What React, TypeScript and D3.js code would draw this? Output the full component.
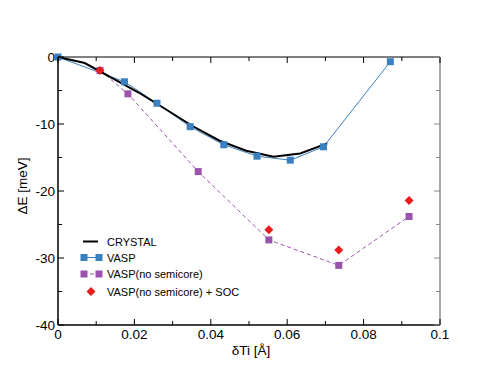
import React from 'react';
import { scaleLinear, line, range } from 'd3';

const W = 495;
const H = 383;
const margin = { top: 57, right: 55, bottom: 58, left: 58 };
const width = 440 - margin.left;
const height = 325 - margin.top;

// CRYSTAL (line only)
const crystalX = [0, 0.007, 0.0141, 0.0211, 0.0282, 0.0352, 0.0423, 0.0493, 0.0564, 0.0634, 0.0705];
const crystalY = [0, -0.9, -3.1, -5.3, -7.8, -10.3, -12.5, -14.0, -14.9, -14.4, -12.9];

// VASP
const vaspX = [0, 0.0174, 0.0259, 0.0346, 0.0434, 0.0521, 0.0608, 0.0695, 0.087];
const vaspY = [0, -3.7, -6.9, -10.4, -13.1, -14.8, -15.4, -13.4, -0.7];

// VASP (no semicore)
const nsX = [0.011, 0.0183, 0.0367, 0.0552, 0.0735, 0.0919];
const nsY = [-2.0, -5.5, -17.1, -27.3, -31.1, -23.8];

// VASP (no semicore) + SOC
const socX = [0.011, 0.0552, 0.0735, 0.0919];
const socY = [-2.0, -25.8, -28.8, -21.4];

const xTicks = [0, 0.02, 0.04, 0.06, 0.08, 0.1];
const xTickLabels = ['0', '0.02', '0.04', '0.06', '0.08', '0.1'];
const yTicks = [0, -10, -20, -30, -40];
const legendLabels = ['CRYSTAL', 'VASP', 'VASP(no semicore)', 'VASP(no semicore) + SOC'];

const BLUE = '#3a7fbf';
const PURPLE = '#9b52ad';
const RED = '#e81c1c';
const FONT = 'Liberation Sans, Arial, sans-serif';

const zip = (xs: number[], ys: number[]) => xs.map((x, i) => [x, ys[i]] as [number, number]);

export default function App() {
  const x = scaleLinear().domain([0, 0.1]).range([0, width]);
  const y = scaleLinear().domain([-40, 0]).range([height, 0]);
  const path = line<[number, number]>().x(d => x(d[0])).y(d => y(d[1]));

  const crystal = zip(crystalX, crystalY);
  const vasp = zip(vaspX, vaspY);
  const ns = zip(nsX, nsY);
  const soc = zip(socX, socY);

  const xMinor = range(0, 11).map(i => i * 0.01);
  const yMinor = range(0, 9).map(i => -i * 5);

  const sq = 7;
  const square = (d: [number, number], color: string, i: number) => (
    <rect key={i} x={x(d[0]) - sq / 2} y={y(d[1]) - sq / 2} width={sq} height={sq} fill={color} />
  );
  const diamond = (cx: number, cy: number, r: number, key: number) => (
    <path key={key} d={`M${cx},${cy - r}L${cx + r},${cy}L${cx},${cy + r}L${cx - r},${cy}Z`} fill={RED} />
  );

  const legX = 83 - margin.left;
  const legY = [241.5, 257.5, 274, 291.5].map(v => v - margin.top);

  return (
    <svg width={W} height={H} style={{ position: 'absolute', left: 0, top: 0, background: '#fff' }}
      fontFamily={FONT}>
      <g transform={`translate(${margin.left},${margin.top})`}>
        {/* data */}
        <path d={path(ns) || ''} fill="none" stroke={PURPLE} strokeWidth={1} strokeDasharray="4,3" />
        {ns.map((d, i) => square(d, PURPLE, i))}
        <path d={path(vasp) || ''} fill="none" stroke={BLUE} strokeWidth={1} />
        <path d={path(crystal) || ''} fill="none" stroke="#000" strokeWidth={2} />
        {vasp.map((d, i) => square(d, BLUE, i))}
        {soc.map((d, i) => diamond(x(d[0]), y(d[1]), 4.5, i))}

        {/* frame */}
        <line x1={0} x2={width} y1={0} y2={0} stroke="#000" />
        <line x1={width} x2={width} y1={0} y2={height} stroke="#888" strokeWidth={1.5} />
        <line x1={0} x2={0} y1={0} y2={height} stroke="#000" strokeWidth={1.5} />
        <line x1={0} x2={width} y1={height} y2={height} stroke="#000" strokeWidth={1.5} />

        {/* ticks */}
        {xMinor.map((v, i) => {
          const major = i % 2 === 0;
          const len = major ? 6 : 4;
          return (
            <g key={i}>
              <line x1={x(v)} x2={x(v)} y1={height} y2={height - len} stroke="#000" />
              <line x1={x(v)} x2={x(v)} y1={0} y2={len} stroke="#000" />
            </g>
          );
        })}
        {yMinor.map((v, i) => {
          const major = i % 2 === 0;
          const len = major ? 6 : 4;
          return (
            <g key={i}>
              <line x1={0} x2={len} y1={y(v)} y2={y(v)} stroke="#000" />
              <line x1={width} x2={width - len} y1={y(v)} y2={y(v)} stroke="#888" />
            </g>
          );
        })}

        {/* tick labels */}
        {xTicks.map((v, i) => (
          <text key={i} x={x(v)} y={height + 14} fontSize={13.5} textAnchor="middle">{xTickLabels[i]}</text>
        ))}
        {yTicks.map(v => (
          <text key={v} x={-3} y={y(v) + 5} fontSize={13.5} textAnchor="end">{v}</text>
        ))}

        {/* axis titles */}
        <text x={width / 2 + 2} y={height + 30} fontSize={13.5} textAnchor="middle">δTi [Å]</text>
        <text transform={`translate(${22 - margin.left},${height / 2 - 5}) rotate(-90)`} fontSize={13.5}
          textAnchor="middle" dy="0.35em">ΔE [meV]</text>

        {/* legend */}
        <g>
          <line x1={legX} x2={legX + 15} y1={legY[0]} y2={legY[0]} stroke="#000" strokeWidth={2} />
          <line x1={legX} x2={legX + 15} y1={legY[1]} y2={legY[1]} stroke={BLUE} strokeWidth={1} />
          <rect x={legX - 2.5} y={legY[1] - 3.5} width={7} height={7} fill={BLUE} />
          <rect x={legX + 12.5} y={legY[1] - 3.5} width={7} height={7} fill={BLUE} />
          <line x1={legX} x2={legX + 15} y1={legY[2]} y2={legY[2]} stroke={PURPLE} strokeWidth={1} strokeDasharray="4,3" />
          <rect x={legX - 2.5} y={legY[2] - 3.5} width={7} height={7} fill={PURPLE} />
          <rect x={legX + 12.5} y={legY[2] - 3.5} width={7} height={7} fill={PURPLE} />
          {diamond(legX + 8, legY[3], 4.5, 99)}
          {legendLabels.map((t, i) => (
            <text key={t} x={107 - margin.left} y={legY[i] + 4} fontSize={11}>{t}</text>
          ))}
        </g>
      </g>
    </svg>
  );
}
